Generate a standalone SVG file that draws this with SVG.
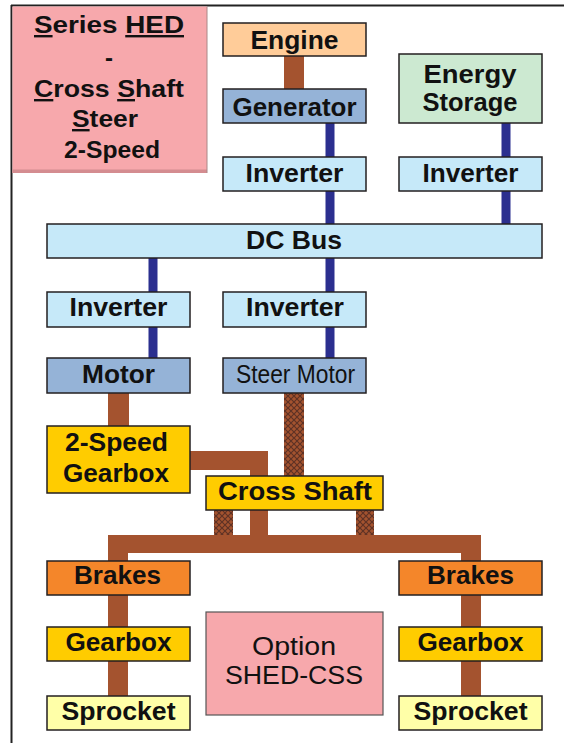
<svg xmlns="http://www.w3.org/2000/svg" width="564" height="743" viewBox="0 0 564 743">
  <style>
    .box { stroke: #231f20; stroke-width: 1.5; }
    .lbl { font-family: "Liberation Sans", Arial, sans-serif; font-size: 26px; font-weight: bold; fill: #111; text-anchor: middle; }
    .reg { font-weight: normal; }
    .ttl { font-family: "Liberation Sans", Arial, sans-serif; font-size: 24px; font-weight: bold; fill: #111; text-anchor: middle; }
    .u { text-decoration: underline; }
    .elec { fill: #2b2f8f; }
    .mech { fill: #a4532f; }
    .gen { fill: #95b3d7; }
    .inv { fill: #c6e9f9; }
    .gold { fill: #ffcc00; }
    .brk { fill: #f4862a; }
    .spr { fill: #ffffa8; }
    .pink { fill: #f7a8ac; }
  </style>
  <defs>
    <!-- cross-hatched shaft texture -->
    <pattern id="hatch" patternUnits="userSpaceOnUse" width="6" height="6">
      <rect width="6" height="6" fill="#a4532f"/>
      <path d="M0,0 L6,6 M6,0 L0,6" stroke="#5e3124" stroke-width="1.2"/>
    </pattern>
  </defs>

  <rect width="564" height="743" fill="#ffffff"/>

  <!-- frame lines -->
  <line x1="11.5" y1="5" x2="11.5" y2="743" stroke="#222" stroke-width="2"/>
  <line x1="11" y1="5.5" x2="564" y2="5.5" stroke="#222" stroke-width="2"/>

  <g id="connectors">
    <!-- electrical links -->
    <rect class="elec" x="325.5" y="123" width="9" height="34"/>
    <rect class="elec" x="325.5" y="191" width="9" height="33"/>
    <rect class="elec" x="325.5" y="258" width="9" height="34"/>
    <rect class="elec" x="325.5" y="327" width="9" height="31"/>
    <rect class="elec" x="501.5" y="123" width="9" height="34"/>
    <rect class="elec" x="501.5" y="191" width="9" height="33"/>
    <rect class="elec" x="148.5" y="258" width="9" height="34"/>
    <rect class="elec" x="148.5" y="327" width="9" height="31"/>
    <!-- mechanical shafts -->
    <rect class="mech" x="284" y="56" width="20" height="33"/>
    <rect class="mech" x="108" y="393" width="21" height="33"/>
    <rect class="mech" x="190" y="451" width="78" height="19"/>
    <rect class="mech" x="250" y="451" width="18" height="102"/>
    <rect class="mech" x="108" y="535" width="373" height="18"/>
    <rect class="mech" x="108" y="535" width="20" height="161"/>
    <rect class="mech" x="461" y="535" width="20" height="161"/>
    <!-- steer shafts -->
    <rect x="284" y="393" width="20" height="83" fill="url(#hatch)"/>
    <rect x="214" y="510" width="19" height="25" fill="url(#hatch)"/>
    <rect x="356" y="510" width="18" height="25" fill="url(#hatch)"/>
  </g>

  <g id="title">
    <rect class="pink" x="12.5" y="6.5" width="194.5" height="166.5"/>
    <rect x="12.5" y="169.5" width="194.5" height="3.5" fill="#d48c90"/>
    <line x1="207" y1="6.5" x2="207" y2="173" stroke="#a88" stroke-width="1"/>
    <text class="ttl" x="109" y="33" textLength="150" lengthAdjust="spacingAndGlyphs"><tspan class="u">S</tspan>eries <tspan class="u">HED</tspan></text>
    <text class="ttl" x="109" y="66">-</text>
    <text class="ttl" x="109" y="97" textLength="150" lengthAdjust="spacingAndGlyphs"><tspan class="u">C</tspan>ross <tspan class="u">S</tspan>haft</text>
    <text class="ttl" x="105" y="127" textLength="66" lengthAdjust="spacingAndGlyphs"><tspan class="u">S</tspan>teer</text>
    <text class="ttl" x="112" y="157.5" textLength="96" lengthAdjust="spacingAndGlyphs">2-Speed</text>
  </g>

  <g id="engine">
    <rect class="box" x="223" y="23" width="143" height="33" fill="#ffcc99"/>
    <text class="lbl" x="294.5" y="48.5" textLength="88" lengthAdjust="spacingAndGlyphs">Engine</text>
  </g>
  <g id="generator">
    <rect class="box gen" x="223" y="89" width="143" height="34"/>
    <text class="lbl" x="294.5" y="115.5" textLength="124" lengthAdjust="spacingAndGlyphs">Generator</text>
  </g>
  <g id="inverter-gen">
    <rect class="box inv" x="223" y="157" width="143" height="34"/>
    <text class="lbl" x="294.5" y="182" textLength="98" lengthAdjust="spacingAndGlyphs">Inverter</text>
  </g>
  <g id="energy-storage">
    <rect class="box" x="399" y="54" width="143" height="69" fill="#cce9d1"/>
    <text class="lbl" x="470" y="83" textLength="93" lengthAdjust="spacingAndGlyphs">Energy</text>
    <text class="lbl" x="470" y="111" textLength="95" lengthAdjust="spacingAndGlyphs">Storage</text>
  </g>
  <g id="inverter-storage">
    <rect class="box inv" x="399" y="157" width="143" height="34"/>
    <text class="lbl" x="470.5" y="182" textLength="96" lengthAdjust="spacingAndGlyphs">Inverter</text>
  </g>
  <g id="dc-bus">
    <rect class="box inv" x="47" y="224" width="495" height="34"/>
    <text class="lbl" x="294" y="248.5" textLength="96" lengthAdjust="spacingAndGlyphs">DC Bus</text>
  </g>
  <g id="inverter-drive">
    <rect class="box inv" x="47" y="292" width="143" height="35"/>
    <text class="lbl" x="118.5" y="316" textLength="98" lengthAdjust="spacingAndGlyphs">Inverter</text>
  </g>
  <g id="inverter-steer">
    <rect class="box inv" x="223" y="292" width="143" height="35"/>
    <text class="lbl" x="295" y="316" textLength="98" lengthAdjust="spacingAndGlyphs">Inverter</text>
  </g>
  <g id="motor">
    <rect class="box gen" x="47" y="358" width="143" height="35"/>
    <text class="lbl" x="118.5" y="382.5" textLength="73" lengthAdjust="spacingAndGlyphs">Motor</text>
  </g>
  <g id="steer-motor">
    <rect class="box gen" x="223" y="358" width="143" height="35"/>
    <text class="lbl reg" x="295.5" y="382.5" font-size="23" textLength="119" lengthAdjust="spacingAndGlyphs">Steer Motor</text>
  </g>
  <g id="two-speed-gearbox">
    <rect class="box gold" x="47" y="426" width="143" height="67"/>
    <text class="lbl" x="116.5" y="451" textLength="103" lengthAdjust="spacingAndGlyphs">2-Speed</text>
    <text class="lbl" x="116" y="482" textLength="106" lengthAdjust="spacingAndGlyphs">Gearbox</text>
  </g>
  <g id="cross-shaft">
    <rect class="box gold" x="206" y="476" width="177" height="34"/>
    <text class="lbl" x="295" y="499.5" textLength="154" lengthAdjust="spacingAndGlyphs">Cross Shaft</text>
  </g>
  <g id="brakes-left">
    <rect class="box brk" x="47" y="561" width="143" height="34"/>
    <text class="lbl" x="117.5" y="583.5" textLength="87" lengthAdjust="spacingAndGlyphs">Brakes</text>
  </g>
  <g id="brakes-right">
    <rect class="box brk" x="399" y="561" width="143" height="34"/>
    <text class="lbl" x="470.5" y="583.5" textLength="87" lengthAdjust="spacingAndGlyphs">Brakes</text>
  </g>
  <g id="gearbox-left">
    <rect class="box gold" x="47" y="627" width="143" height="34"/>
    <text class="lbl" x="118.5" y="651" textLength="106" lengthAdjust="spacingAndGlyphs">Gearbox</text>
  </g>
  <g id="gearbox-right">
    <rect class="box gold" x="399" y="627" width="143" height="34"/>
    <text class="lbl" x="470.5" y="651" textLength="106" lengthAdjust="spacingAndGlyphs">Gearbox</text>
  </g>
  <g id="sprocket-left">
    <rect class="box spr" x="47" y="696" width="143" height="34"/>
    <text class="lbl" x="118.5" y="720" textLength="114" lengthAdjust="spacingAndGlyphs">Sprocket</text>
  </g>
  <g id="sprocket-right">
    <rect class="box spr" x="399" y="696" width="143" height="34"/>
    <text class="lbl" x="470.5" y="720" textLength="114" lengthAdjust="spacingAndGlyphs">Sprocket</text>
  </g>
  <g id="option">
    <rect class="pink" x="206" y="612" width="177" height="103" stroke="#555" stroke-width="1.2"/>
    <text class="lbl reg" x="294" y="654.5" textLength="84" lengthAdjust="spacingAndGlyphs">Option</text>
    <text class="lbl reg" x="294" y="683.5" textLength="138" lengthAdjust="spacingAndGlyphs">SHED-CSS</text>
  </g>
</svg>
